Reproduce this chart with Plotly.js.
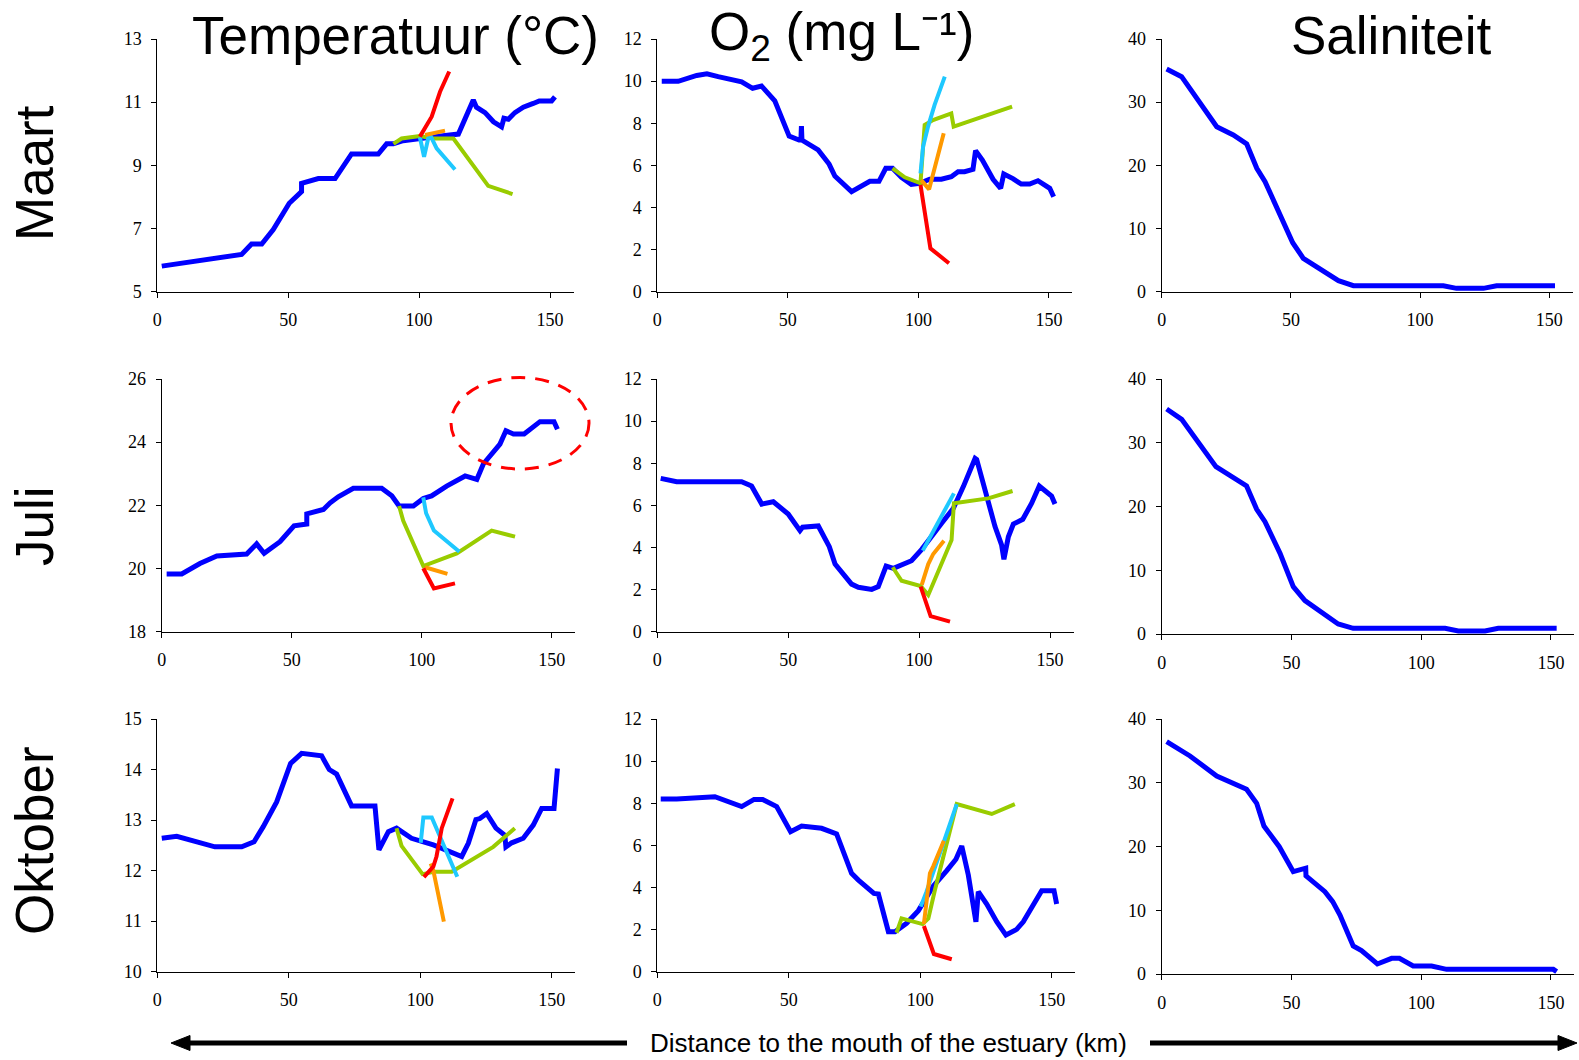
<!DOCTYPE html>
<html><head><meta charset="utf-8">
<script src="https://cdn.plot.ly/plotly-3.0.1.min.js"></script>
<style>html,body{margin:0;padding:0;background:#fff}#chart{width:1579px;height:1060px}</style>
</head><body><div id="chart"></div>
<script>
// ---------- column / row labels ----------
const columnTitles = ['Temperatuur (°C)', 'O<sub>2</sub> (mg L⁻¹)', 'Saliniteit'];
const rowTitles = ['Maart', 'Juli', 'Oktober'];
const xAxisLabel = 'Distance to the mouth of the estuary (km)';
const xTicks = [0, 50, 100, 150];
const yTicksTempMaart = [5, 7, 9, 11, 13];
const yTicksTempJuli = [18, 20, 22, 24, 26];
const yTicksTempOkt = [10, 11, 12, 13, 14, 15];
const yTicksO2 = [0, 2, 4, 6, 8, 10, 12];
const yTicksSal = [0, 10, 20, 30, 40];

// ---------- Maart : temperature ----------
const tMarBlueKm = [1.7,21.4,32.2,36.0,39.9,44.3,50.4,55.1,55.1,61.5,67.9,74.2,84.4,87.6,90.2,93.9,97.8,104.2,115.0,117.5,120.7,121.9,125.2,128.4,131.5,132.4,134.1,136.6,139.8,143.6,145.9,150.6,151.9];
const tMarBlue   = [5.81,6.05,6.18,6.51,6.51,6.97,7.80,8.17,8.43,8.58,8.58,9.36,9.36,9.68,9.68,9.78,9.83,9.89,9.99,10.44,11.07,10.84,10.67,10.38,10.22,10.49,10.46,10.67,10.84,10.96,11.04,11.04,11.17];
const tMarGreenKm = [90.2,93.3,100.3,105.4,113.1,126.4,135.7];
const tMarGreen   = [9.68,9.85,9.93,9.85,9.85,8.35,8.09];
const tMarCyanKm = [100.3,101.9,103.9,106.7,113.7];
const tMarCyan   = [9.89,9.27,10.01,9.54,8.87];
const tMarOrangeKm = [102.3,109.9];
const tMarOrange   = [9.96,10.10];
const tMarRedKm = [100.3,104.8,108.0,111.5];
const tMarRed   = [9.91,10.54,11.33,11.97];

// ---------- Maart : O2 ----------
const oMarBlueKm = [1.7,8.0,15.1,19.0,23.3,29.1,32.3,36.5,39.9,45.0,50.5,54.3,55.0,55.2,55.4,61.6,65.8,68.0,74.4,81.4,84.9,87.5,90.1,93.5,97.3,100.5,104.3,108.8,112.6,115.2,117.7,120.9,121.9,124.5,128.6,131.5,132.7,136.2,139.4,142.6,145.8,150.3,151.8];
const oMarBlue   = [9.99,9.99,10.27,10.35,10.21,10.08,9.97,9.66,9.77,9.06,7.39,7.20,7.2,7.87,7.2,6.73,6.06,5.49,4.75,5.24,5.24,5.86,5.86,5.43,5.10,5.15,5.34,5.34,5.46,5.70,5.70,5.81,6.70,6.25,5.34,4.91,5.59,5.37,5.11,5.11,5.27,4.91,4.51];
const oMarGreenKm = [90.1,94.8,100.8,102.4,105.6,112.6,113.5,135.9];
const oMarGreen   = [5.86,5.43,5.15,7.92,8.15,8.47,7.84,8.79];
const oMarCyanKm = [100.8,101.8,103.7,106.2,110.1];
const oMarCyan   = [5.62,6.89,7.84,8.87,10.21];
const oMarOrangeKm = [101.1,104.1,109.7];
const oMarOrange   = [5.30,4.86,7.52];
const oMarRedKm = [100.8,104.6,111.7];
const oMarRed   = [5.07,2.06,1.35];

// ---------- Maart : salinity ----------
const sMarKm = [1.9,7.7,21.3,27.7,32.9,36.8,40.0,45.8,50.7,54.8,62.6,68.4,74.2,109.0,114.1,124.5,129.6,152.2];
const sMar   = [35.25,34.04,26.12,24.80,23.38,19.53,17.41,12.40,7.76,5.28,3.32,1.74,0.95,0.95,0.53,0.53,0.95,0.95];

// ---------- Juli : temperature ----------
const tJulBlueKm = [1.9,7.7,14.7,21.2,32.7,36.5,39.4,45.5,50.9,55.8,55.8,62.2,64.8,67.9,73.7,84.6,88.5,91.3,96.8,100.6,103.8,109.6,116.7,121.2,123.7,130.1,132.4,135.3,139.4,145.5,150.9,152.2];
const tJulBlue   = [19.83,19.83,20.16,20.40,20.46,20.78,20.48,20.85,21.35,21.41,21.73,21.87,22.08,22.27,22.54,22.54,22.30,21.98,21.98,22.22,22.30,22.61,22.93,22.82,23.31,23.94,24.36,24.26,24.26,24.65,24.65,24.41];
const tJulGreenKm = [91.3,92.9,100.6,102.6,113.5,126.9,135.9];
const tJulGreen   = [21.98,21.51,20.08,20.14,20.48,21.20,21.01];
const tJulCyanKm = [100.6,101.7,104.7,114.5];
const tJulCyan   = [22.25,21.75,21.20,20.53];
const tJulOrangeKm = [101.3,104.5,109.9];
const tJulOrange   = [20.04,19.97,19.83];
const tJulRedKm = [100.6,104.7,112.8];
const tJulRed   = [20.01,19.37,19.53];

// ---------- Juli : O2 ----------
const oJulBlueKm = [1.3,7.4,32.2,36.0,39.9,44.3,50.0,54.5,55.5,61.5,65.7,67.9,74.2,76.8,81.9,84.4,87.4,90.2,97.1,101.0,108.6,113.1,116.9,121.4,122.0,125.8,129.0,131.5,132.4,134.1,136.0,139.6,143.0,145.9,150.6,151.9];
const oJulBlue   = [7.28,7.12,7.12,6.92,6.06,6.17,5.59,4.80,4.96,5.02,4.04,3.21,2.26,2.11,2.01,2.14,3.12,3.01,3.37,3.91,5.15,5.86,6.89,8.23,8.18,6.41,4.99,4.12,3.44,4.51,5.11,5.34,6.10,6.92,6.44,6.06];
const oJulGreenKm = [89.9,93.3,100.6,103.5,112.4,113.3,126.4,135.7];
const oJulGreen   = [3.06,2.42,2.17,1.74,4.35,6.10,6.33,6.68];
const oJulCyanKm = [101.4,113.3];
const oJulCyan   = [3.85,6.57];
const oJulOrangeKm = [101.0,103.5,105.4,109.5];
const oJulOrange   = [2.22,3.21,3.69,4.32];
const oJulRedKm = [100.6,104.4,111.8];
const oJulRed   = [2.14,0.74,0.48];

// ---------- Juli : salinity ----------
const sJulKm = [1.9,7.7,20.9,32.7,36.6,39.8,45.6,50.7,55.2,62.3,68.0,73.8,109.2,114.3,124.6,129.7,152.2];
const sJul   = [35.29,33.67,26.25,23.22,19.56,17.62,12.65,7.42,5.23,3.24,1.57,0.89,0.89,0.47,0.47,0.89,0.89];

// ---------- Oktober : temperature ----------
const tOktBlueKm = [1.7,7.4,21.9,32.1,36.8,40.3,45.4,50.7,54.9,62.5,65.4,68.2,73.9,82.8,84.3,87.9,91.0,96.7,105.0,110.1,115.8,118.3,121.2,122.7,125.3,128.8,132.2,132.6,134.8,139.2,143.0,146.2,150.9,152.2];
const tOktBlue   = [12.64,12.68,12.47,12.47,12.57,12.87,13.36,14.12,14.32,14.27,14.00,13.91,13.28,13.28,12.41,12.77,12.84,12.64,12.51,12.41,12.28,12.54,13.01,13.03,13.13,12.84,12.70,12.47,12.55,12.64,12.90,13.23,13.23,14.02];
const tOktGreenKm = [91.0,92.9,100.9,105.6,112.0,127.8,136.0];
const tOktGreen   = [12.84,12.49,11.93,11.98,11.98,12.47,12.84];
const tOktCyanKm = [100.2,101.2,104.4,114.1];
const tOktCyan   = [12.55,13.05,13.05,11.88];
const tOktOrangeKm = [104.0,105.0,109.0];
const tOktOrange   = [12.14,12.00,10.99];
const tOktRedKm = [101.4,105.0,106.2,108.2,112.3];
const tOktRed   = [11.87,12.08,12.28,12.84,13.43];

// ---------- Oktober : O2 ----------
const oOktBlueKm = [1.3,7.4,21.9,32.1,36.8,40.1,45.4,50.7,54.9,62.5,68.2,73.9,76.5,82.4,84.1,87.9,90.4,94.8,99.3,101.8,105.0,110.1,113.6,115.8,118.3,121.2,122.1,125.3,129.1,132.6,136.7,139.2,146.2,150.9,151.9];
const oOktBlue   = [8.20,8.20,8.31,7.84,8.18,8.18,7.84,6.65,6.92,6.81,6.54,4.67,4.35,3.72,3.69,1.90,1.90,2.30,2.90,3.40,4.07,4.80,5.34,5.97,4.59,2.37,3.80,3.21,2.37,1.74,2.01,2.37,3.85,3.85,3.21];
const oOktGreenKm = [91.0,92.9,100.9,103.1,105.6,109.4,113.9,127.2,136.0];
const oOktGreen   = [1.85,2.53,2.26,2.53,3.88,5.78,7.96,7.49,7.96];
const oOktCyanKm = [100.2,102.4,108.8,113.9];
const oOktCyan   = [3.09,3.80,6.10,7.96];
const oOktOrangeKm = [101.4,103.7,105.0,109.0];
const oOktOrange   = [2.27,4.67,5.02,6.22];
const oOktRedKm = [101.4,105.2,112.0];
const oOktRed   = [2.17,0.84,0.59];

// ---------- Oktober : salinity ----------
const sOktKm = [1.9,10.9,21.2,32.7,36.6,39.4,45.3,50.7,55.5,55.6,62.9,65.9,68.7,73.8,77.0,83.1,88.6,91.6,96.9,104.0,109.8,150.9,152.2];
const sOkt   = [36.44,34.20,31.06,28.97,26.77,23.22,19.97,16.05,16.6,15.4,12.92,11.35,9.25,4.39,3.66,1.57,2.46,2.46,1.25,1.25,0.73,0.73,0.37];

// ---------- build ----------
const W = 1579, H = 1060;
const COL = {blue:'#0000FF', green:'#99CC00', cyan:'#1EC8FF', orange:'#FF9900', red:'#FF0000'};

const panels = [
  {x0:157.3, k:2.618, top:39,  bot:291.7, yr:[5,13],  yt:yTicksTempMaart,
   s:[[tMarBlueKm,tMarBlue,'blue'],[tMarGreenKm,tMarGreen,'green'],[tMarCyanKm,tMarCyan,'cyan'],[tMarOrangeKm,tMarOrange,'orange'],[tMarRedKm,tMarRed,'red']]},
  {x0:657.3, k:2.611, top:39,  bot:291.7, yr:[0,12],  yt:yTicksO2,
   s:[[oMarBlueKm,oMarBlue,'blue'],[oMarGreenKm,oMarGreen,'green'],[oMarCyanKm,oMarCyan,'cyan'],[oMarOrangeKm,oMarOrange,'orange'],[oMarRedKm,oMarRed,'red']]},
  {x0:1161.7, k:2.584, top:39, bot:291.7, yr:[0,40],  yt:yTicksSal, s:[[sMarKm,sMar,'blue']]},
  {x0:161.7, k:2.600, top:379, bot:631.7, yr:[18,26], yt:yTicksTempJuli,
   s:[[tJulBlueKm,tJulBlue,'blue'],[tJulGreenKm,tJulGreen,'green'],[tJulCyanKm,tJulCyan,'cyan'],[tJulOrangeKm,tJulOrange,'orange'],[tJulRedKm,tJulRed,'red']]},
  {x0:657.3, k:2.618, top:379, bot:631.7, yr:[0,12],  yt:yTicksO2,
   s:[[oJulBlueKm,oJulBlue,'blue'],[oJulGreenKm,oJulGreen,'green'],[oJulCyanKm,oJulCyan,'cyan'],[oJulOrangeKm,oJulOrange,'orange'],[oJulRedKm,oJulRed,'red']]},
  {x0:1161.7, k:2.595, top:379, bot:634, yr:[0,40],  yt:yTicksSal, s:[[sJulKm,sJul,'blue']]},
  {x0:157.3, k:2.629, top:719, bot:971.7, yr:[10,15], yt:yTicksTempOkt,
   s:[[tOktBlueKm,tOktBlue,'blue'],[tOktGreenKm,tOktGreen,'green'],[tOktCyanKm,tOktCyan,'cyan'],[tOktOrangeKm,tOktOrange,'orange'],[tOktRedKm,tOktRed,'red']]},
  {x0:657.3, k:2.629, top:719, bot:971.7, yr:[0,12],  yt:yTicksO2,
   s:[[oOktBlueKm,oOktBlue,'blue'],[oOktGreenKm,oOktGreen,'green'],[oOktCyanKm,oOktCyan,'cyan'],[oOktOrangeKm,oOktOrange,'orange'],[oOktRedKm,oOktRed,'red']]},
  {x0:1161.7, k:2.595, top:719, bot:974, yr:[0,40],  yt:yTicksSal, s:[[sOktKm,sOkt,'blue']]}
];
const XMAX = 159;
const tickFont = {family:'Liberation Serif, Times New Roman, serif', size:18, color:'#000'};
const traces = [];
const layout = {
  width:W, height:H, margin:{l:0,r:0,t:0,b:0},
  paper_bgcolor:'#fff', plot_bgcolor:'rgba(0,0,0,0)', showlegend:false,
  annotations:[], shapes:[]
};
panels.forEach((p,i)=>{
  const n = i===0 ? '' : String(i+1);
  layout['xaxis'+n] = {
    domain:[p.x0/W, (p.x0 + XMAX*p.k)/W], range:[0,XMAX], anchor:'y'+n,
    showline:true, linecolor:'#000', linewidth:1, ticks:'outside', ticklen:5, tickcolor:'#000', tickwidth:1,
    tickvals:xTicks, showgrid:false, zeroline:false, tickfont:tickFont, ticklabelstandoff:7, fixedrange:true
  };
  layout['yaxis'+n] = {
    domain:[1-p.bot/H, 1-p.top/H], range:p.yr, anchor:'x'+n,
    showline:true, linecolor:'#000', linewidth:1, ticks:'outside', ticklen:5, tickcolor:'#000', tickwidth:1,
    tickvals:p.yt, showgrid:false, zeroline:false, tickfont:tickFont, ticklabelstandoff:6, fixedrange:true
  };
  p.s.forEach(([xs,ys,c])=>{
    traces.push({x:xs, y:ys, type:'scatter', mode:'lines', xaxis:'x'+n, yaxis:'y'+n,
      line:{color:COL[c], width:c==='blue'?5:4}, hoverinfo:'skip'});
  });
});

const titleFont = {family:'Liberation Sans, Arial, sans-serif', size:53, color:'#000'};
const colCenters = [395, 841, 1391];
columnTitles.forEach((t,i)=>{
  layout.annotations.push({text:t, xref:'paper', yref:'paper', x:colCenters[i]/W, y:1-36/H,
    xanchor:'center', yanchor:'middle', showarrow:false, font:titleFont});
});
const rowCenters = [173, 526, 841];
rowTitles.forEach((t,i)=>{
  layout.annotations.push({text:t, xref:'paper', yref:'paper', x:34/W, y:1-rowCenters[i]/H,
    xanchor:'center', yanchor:'middle', showarrow:false, textangle:-90, font:titleFont});
});
layout.annotations.push({text:xAxisLabel, xref:'paper', yref:'paper', x:888/W, y:1-1043/H,
  xanchor:'center', yanchor:'middle', showarrow:false,
  font:{family:'Liberation Sans, Arial, sans-serif', size:26, color:'#000'}});

// arrows
const px = v => v/W, py = v => 1 - v/H;
const ay = 1043;
layout.shapes.push({type:'line', xref:'paper', yref:'paper', x0:px(627), x1:px(184), y0:py(ay), y1:py(ay), line:{color:'#000', width:5}});
layout.shapes.push({type:'path', xref:'paper', yref:'paper',
  path:`M ${px(171)},${py(ay)} L ${px(190)},${py(ay-7.5)} L ${px(190)},${py(ay+7.5)} Z`, fillcolor:'#000', line:{color:'#000', width:1}});
layout.shapes.push({type:'line', xref:'paper', yref:'paper', x0:px(1150), x1:px(1564), y0:py(ay), y1:py(ay), line:{color:'#000', width:5}});
layout.shapes.push({type:'path', xref:'paper', yref:'paper',
  path:`M ${px(1577)},${py(ay)} L ${px(1558)},${py(ay-7.5)} L ${px(1558)},${py(ay+7.5)} Z`, fillcolor:'#000', line:{color:'#000', width:1}});
// dashed ellipse highlighting Juli upstream temperatures
layout.shapes.push({type:'circle', xref:'paper', yref:'paper', x0:px(451), x1:px(589), y0:py(377.5), y1:py(469),
  line:{color:'#FF0000', width:3, dash:'14px,10px'}, fillcolor:'rgba(0,0,0,0)'});

Plotly.newPlot('chart', traces, layout, {staticPlot:true, displayModeBar:false});
</script></body></html>
